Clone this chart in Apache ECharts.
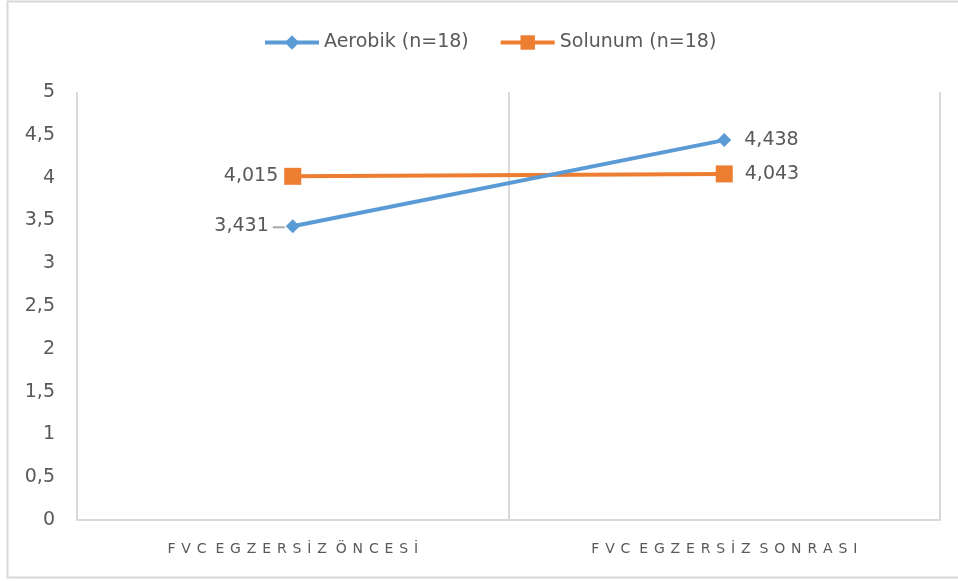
<!DOCTYPE html>
<html>
<head>
<meta charset="utf-8">
<script src="https://cdn.jsdelivr.net/npm/echarts@6/dist/echarts.min.js"></script>
<style>html,body{margin:0;padding:0;background:#fff;}#c{width:958px;height:581px;}</style>
</head>
<body>
<div id="c"></div>
<script>
var categories = ['FVC EGZERSİZ ÖNCESİ', 'FVC EGZERSİZ SONRASI'];
var aerobik = [3.431, 4.438];
var solunum = [4.015, 4.043];
var seriesNames = ['Aerobik (n=18)', 'Solunum (n=18)'];

function spaced(s) {
  return s.split(' ').map(function (w) { return w.split('').join(' \u200A'); }).join('  ');
}
function fmt(v) { return v.toFixed(3).replace('.', ','); }

var chart = echarts.init(document.getElementById('c'));
var font = '"DejaVu Sans", sans-serif';
function lbl(dist) {
  return {
    show: true,
    position: 'right',
    distance: dist,
    color: '#595959',
    fontSize: 19,
    fontFamily: font,
    formatter: function (p) { return fmt(p.value); }
  };
}
function withLeft(arr, dist) {
  return arr.map(function (v, i) {
    if (i === 0) {
      return { value: v, label: { position: 'left', distance: dist } };
    }
    return v;
  });
}
var border = {
  type: 'rect',
  shape: { x: 7.5, y: 1.5, width: 1000, height: 576 },
  style: { fill: 'none', stroke: '#d9d9d9', lineWidth: 2 },
  silent: true
};
chart.setOption({
  animation: false,
  graphic: [border],
  legend: {
    top: 28,
    left: 258,
    itemWidth: 54,
    itemHeight: 18,
    itemGap: 30,
    textStyle: { color: '#595959', fontSize: 19, fontFamily: font },
    lineStyle: { width: 4 },
    data: seriesNames
  },
  grid: { left: 77, right: 18, top: 92, bottom: 61 },
  xAxis: {
    type: 'category',
    data: categories,
    boundaryGap: true,
    axisLine: { show: true, lineStyle: { color: '#d9d9d9', width: 2 } },
    axisTick: { show: false },
    splitLine: { show: true, interval: 0, lineStyle: { color: '#d9d9d9', width: 2 } },
    axisLabel: {
      color: '#595959', fontSize: 14, fontFamily: font, margin: 22,
      formatter: function (v) { return spaced(v); }
    }
  },
  yAxis: {
    type: 'value',
    min: 0, max: 5, interval: 0.5,
    axisLine: { show: false },
    axisTick: { show: false },
    splitLine: { show: false },
    axisLabel: {
      color: '#595959', fontSize: 19, fontFamily: font, margin: 22,
      formatter: function (v) { return String(v).replace('.', ','); }
    }
  },
  series: [
    {
      name: seriesNames[0],
      type: 'line',
      data: withLeft(aerobik, 17),
      symbol: 'diamond',
      symbolSize: 14,
      itemStyle: { color: '#5B9BD5' },
      lineStyle: { color: '#5B9BD5', width: 4 },
      label: lbl(13),
      z: 3
    },
    {
      name: seriesNames[1],
      type: 'line',
      data: withLeft(solunum, 6),
      symbol: 'rect',
      symbolSize: 17,
      itemStyle: { color: '#ED7D31' },
      lineStyle: { color: '#ED7D31', width: 4 },
      label: lbl(12),
      z: 2
    }
  ]
});
// small leader tick for the first Aerobik label, positioned via the chart's own scale
var p = chart.convertToPixel({ xAxisIndex: 0, yAxisIndex: 0 }, [0, aerobik[0]]);
chart.setOption({
  graphic: [border, {
    type: 'line',
    shape: { x1: p[0] - 20, y1: p[1] + 1, x2: p[0] - 8, y2: p[1] + 1 },
    style: { stroke: '#a6a6a6', lineWidth: 2 },
    silent: true,
    z: 1
  }]
});
</script>
</body>
</html>
